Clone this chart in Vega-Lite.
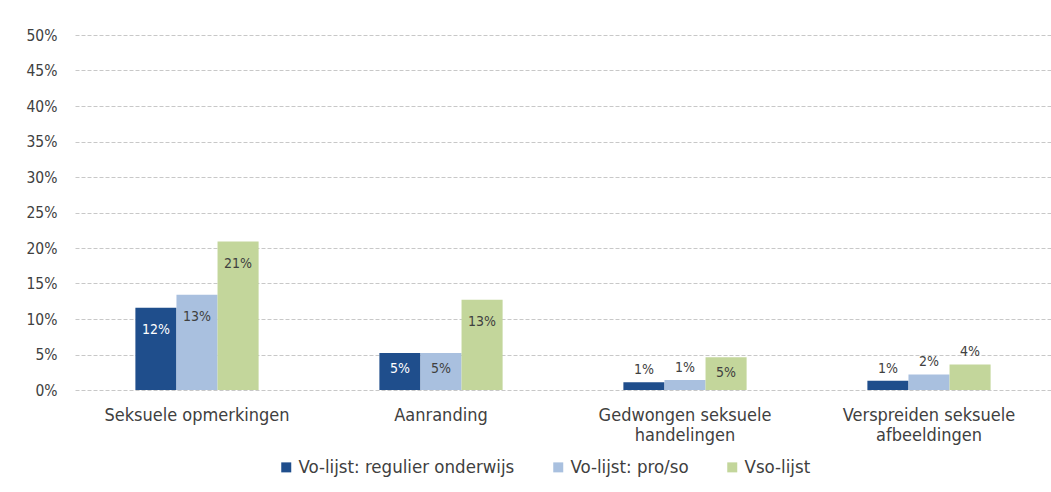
{
  "$schema": "https://vega.github.io/schema/vega-lite/v6.json",
  "width": 976,
  "height": 355,
  "autosize": "none",
  "padding": {"left": 75, "top": 35, "right": 0, "bottom": 102},
  "background": "white",
  "config": {
    "view": {"stroke": null},
    "font": "DejaVu Sans Condensed",
    "axis": {"labelFont": "DejaVu Sans Condensed", "labelColor": "#404040"},
    "legend": {"labelFont": "DejaVu Sans Condensed", "labelColor": "#404040"},
    "text": {"font": "DejaVu Sans Condensed"}
  },
  "data": {
    "values": [
      {"category": "Seksuele opmerkingen", "series": "Vo-lijst: regulier onderwijs", "value": 0.116},
      {"category": "Seksuele opmerkingen", "series": "Vo-lijst: pro/so", "value": 0.134},
      {"category": "Seksuele opmerkingen", "series": "Vso-lijst", "value": 0.209},
      {"category": "Aanranding", "series": "Vo-lijst: regulier onderwijs", "value": 0.052},
      {"category": "Aanranding", "series": "Vo-lijst: pro/so", "value": 0.052},
      {"category": "Aanranding", "series": "Vso-lijst", "value": 0.127},
      {"category": "Gedwongen seksuele handelingen", "series": "Vo-lijst: regulier onderwijs", "value": 0.011},
      {"category": "Gedwongen seksuele handelingen", "series": "Vo-lijst: pro/so", "value": 0.014},
      {"category": "Gedwongen seksuele handelingen", "series": "Vso-lijst", "value": 0.046},
      {"category": "Verspreiden seksuele afbeeldingen", "series": "Vo-lijst: regulier onderwijs", "value": 0.013},
      {"category": "Verspreiden seksuele afbeeldingen", "series": "Vo-lijst: pro/so", "value": 0.022},
      {"category": "Verspreiden seksuele afbeeldingen", "series": "Vso-lijst", "value": 0.036}
    ]
  },
  "encoding": {
    "x": {
      "field": "category",
      "type": "nominal",
      "sort": null,
      "scale": {"paddingInner": 0.495, "paddingOuter": 0.2475},
      "axis": {
        "title": null,
        "labelAngle": 0,
        "labelFontSize": 18,
        "labelPadding": 16,
        "labelLineHeight": 20,
        "labelLimit": 400,
        "ticks": false,
        "domain": false,
        "labelExpr": "datum.label == 'Gedwongen seksuele handelingen' ? ['Gedwongen seksuele', 'handelingen'] : datum.label == 'Verspreiden seksuele afbeeldingen' ? ['Verspreiden seksuele', 'afbeeldingen'] : datum.label"
      }
    },
    "xOffset": {"field": "series", "type": "nominal", "sort": ["Vo-lijst: regulier onderwijs", "Vo-lijst: pro/so", "Vso-lijst"], "scale": {"paddingInner": 0, "paddingOuter": 0}},
    "y": {
      "field": "value",
      "type": "quantitative",
      "scale": {"domain": [0, 0.5], "nice": false},
      "axis": {
        "title": null,
        "format": ".0%",
        "values": [0, 0.05, 0.1, 0.15, 0.2, 0.25, 0.3, 0.35, 0.4, 0.45, 0.5],
        "labelOverlap": false,
        "labelFontSize": 15.5,
        "labelPadding": 18,
        "ticks": false,
        "domain": false,
        "gridColor": "#c8c8c8",
        "gridDash": [4, 2],
        "gridWidth": 1
      }
    }
  },
  "layer": [
    {
      "mark": {"type": "bar"},
      "encoding": {
        "color": {
          "field": "series",
          "type": "nominal",
          "sort": ["Vo-lijst: regulier onderwijs", "Vo-lijst: pro/so", "Vso-lijst"],
          "scale": {"domain": ["Vo-lijst: regulier onderwijs", "Vo-lijst: pro/so", "Vso-lijst"], "range": ["#1F4E8C", "#A9C0DF", "#C3D69B"]},
          "legend": {
            "title": null,
            "orient": "none",
            "direction": "horizontal",
            "legendX": 202,
            "legendY": 423,
            "symbolType": "square",
            "symbolSize": 100,
            "symbolStrokeWidth": 0,
            "labelFontSize": 18.5,
            "labelLimit": 400,
            "labelOffset": 3,
            "columnPadding": 34
          }
        }
      }
    },
    {
      "transform": [{"filter": "datum.value >= 0.1"}],
      "mark": {"type": "text", "baseline": "middle", "dy": 22, "fontSize": 14},
      "encoding": {
        "text": {"field": "value", "type": "quantitative", "format": ".0%"},
        "color": {"condition": {"test": "datum.series == 'Vo-lijst: regulier onderwijs'", "value": "white"}, "value": "#404040"}
      }
    },
    {
      "transform": [{"filter": "datum.value >= 0.04 && datum.value < 0.1"}],
      "mark": {"type": "text", "baseline": "middle", "dy": 16, "fontSize": 14},
      "encoding": {
        "text": {"field": "value", "type": "quantitative", "format": ".0%"},
        "color": {"condition": {"test": "datum.series == 'Vo-lijst: regulier onderwijs'", "value": "white"}, "value": "#404040"}
      }
    },
    {
      "transform": [{"filter": "datum.value < 0.04"}],
      "mark": {"type": "text", "baseline": "middle", "dy": -12, "fontSize": 14},
      "encoding": {
        "text": {"field": "value", "type": "quantitative", "format": ".0%"},
        "color": {"value": "#404040"}
      }
    }
  ]
}
